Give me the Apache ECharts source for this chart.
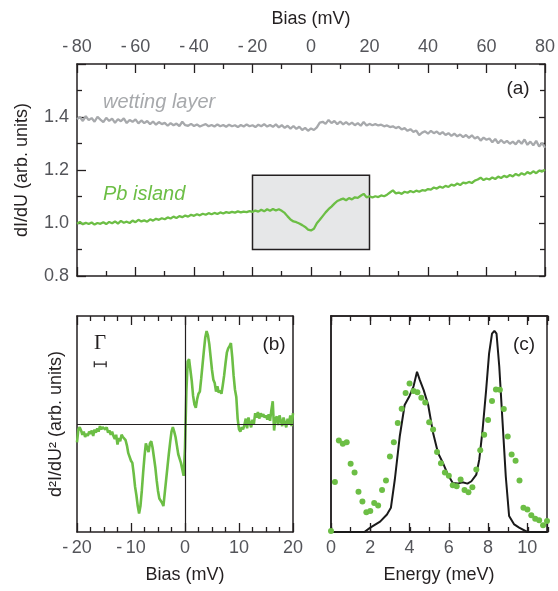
<!DOCTYPE html>
<html>
<head>
<meta charset="utf-8">
<script src="https://cdn.jsdelivr.net/npm/echarts@6/dist/echarts.min.js"></script>
<style>
  html, body { margin: 0; padding: 0; background: #fff; }
  #chart { width: 558px; height: 591px; }
</style>
</head>
<body>
<div id="chart"></div>
<script>
// ---- (a) dI/dU spectra, bias -80 .. 80 mV in 1 mV steps ----
const biasStartA = -80;
const biasStepA = 1;
const wettingLayer = [
  1.392,1.400,1.385,1.403,1.388,1.396,1.382,1.401,1.390,1.381, // -80..-71
  1.397,1.385,1.394,1.378,1.392,1.384,1.395,1.377,1.389,1.382, // -70..-61
  1.391,1.376,1.387,1.377,1.385,1.373,1.383,1.371,1.381,1.373, // -60..-51
  1.378,1.367,1.377,1.369,1.375,1.366,1.382,1.369,1.367,1.374, // -50..-41
  1.366,1.372,1.364,1.369,1.373,1.365,1.370,1.364,1.372,1.365, // -40..-31
  1.370,1.363,1.371,1.365,1.369,1.362,1.370,1.364,1.372,1.365, // -30..-21
  1.369,1.362,1.371,1.365,1.373,1.364,1.370,1.363,1.372,1.361, // -20..-11
  1.369,1.359,1.367,1.356,1.366,1.355,1.363,1.351,1.359,1.348, // -10..-1
  1.357,1.351,1.361,1.379,1.382,1.374,1.389,1.377,1.385,1.373, // 0..9
  1.383,1.372,1.381,1.371,1.379,1.369,1.377,1.367,1.381,1.368, // 10..19
  1.374,1.369,1.373,1.368,1.371,1.365,1.368,1.362,1.365,1.358, // 20..29
  1.363,1.353,1.358,1.348,1.354,1.344,1.349,1.332,1.341,1.346, // 30..39
  1.337,1.348,1.339,1.345,1.335,1.343,1.332,1.339,1.329,1.337, // 40..49
  1.327,1.334,1.324,1.332,1.321,1.331,1.319,1.325,1.311,1.322, // 50..59
  1.314,1.319,1.305,1.317,1.301,1.313,1.302,1.310,1.299,1.307, // 60..69
  1.297,1.311,1.299,1.315,1.295,1.307,1.293,1.310,1.289,1.302, // 70..79
  1.284                                                        // 80
];
const pbIsland = [
  0.997,1.004,0.995,1.001,0.996,1.002,0.994,1.000,0.997,1.003, // -80..-71
  0.996,1.004,0.999,1.006,0.998,1.008,1.001,1.005,1.000,1.009, // -70..-61
  1.003,1.012,1.006,1.010,1.005,1.014,1.009,1.016,1.012,1.018, // -60..-51
  1.014,1.021,1.017,1.024,1.019,1.026,1.022,1.028,1.024,1.031, // -50..-41
  1.027,1.033,1.029,1.035,1.031,1.037,1.033,1.038,1.034,1.040, // -40..-31
  1.036,1.041,1.038,1.042,1.039,1.044,1.040,1.043,1.041,1.045, // -30..-21
  1.042,1.047,1.043,1.050,1.044,1.052,1.046,1.053,1.047,1.052, // -20..-11
  1.046,1.038,1.025,1.013,1.006,1.003,0.998,0.992,0.985,0.975, // -10..-1
  0.972,0.978,0.999,1.012,1.026,1.040,1.052,1.062,1.073,1.083, // 0..9
  1.088,1.092,1.086,1.094,1.089,1.097,1.095,1.103,1.110,1.097, // 10..19
  1.101,1.096,1.101,1.098,1.104,1.101,1.107,1.115,1.123,1.112, // 20..29
  1.115,1.110,1.118,1.114,1.121,1.116,1.122,1.118,1.124,1.122, // 30..39
  1.128,1.126,1.134,1.130,1.137,1.133,1.140,1.136,1.145,1.141, // 40..49
  1.149,1.143,1.152,1.150,1.155,1.151,1.160,1.164,1.171,1.162, // 50..59
  1.168,1.164,1.172,1.166,1.175,1.170,1.178,1.173,1.181,1.176, // 60..69
  1.185,1.179,1.188,1.182,1.192,1.186,1.195,1.188,1.198,1.194, // 70..79
  1.201                                                        // 80
];
// highlighted window around the gap
const boxBias = [-20, 20];
const boxLevel = [0.9, 1.18];

// ---- (b) d2I/dU2, bias -20 .. 20 mV in 0.25 mV steps ----
const biasStartB = -20;
const biasStepB = 0.25;
const secondDerivative = [
  -0.17,-0.05,-0.03,-0.06,-0.10,-0.07,-0.12,-0.09, // -20..-18.25
  -0.11,-0.07,-0.09,-0.06,-0.11,-0.05,-0.08,-0.04, // -18..-16.25
  -0.07,-0.02,-0.05,-0.03,-0.02,-0.05,-0.03,-0.08, // -16..-14.25
  -0.06,-0.10,-0.07,-0.11,-0.14,-0.10,-0.19,-0.13, // -14..-12.25
  -0.16,-0.10,-0.12,-0.11,-0.15,-0.20,-0.27,-0.28, // -12..-10.25
  -0.34,-0.36,-0.46,-0.58,-0.66,-0.76,-0.83,-0.76, // -10..-8.25
  -0.62,-0.45,-0.30,-0.18,-0.19,-0.26,-0.18,-0.16, // -8..-6.25
  -0.22,-0.31,-0.40,-0.52,-0.62,-0.69,-0.70,-0.73, // -6..-4.25
  -0.76,-0.64,-0.52,-0.40,-0.28,-0.17,-0.07,-0.03, // -4..-2.25
  -0.07,-0.12,-0.20,-0.28,-0.32,-0.36,-0.36,-0.48, // -2..-0.25
  -0.22, 0.30, 0.58, 0.60, 0.50, 0.40, 0.26, 0.18, // 0..1.75
   0.15, 0.23, 0.28, 0.30, 0.42, 0.55, 0.68, 0.80, // 2..3.75
   0.86, 0.82, 0.74, 0.62, 0.50, 0.41, 0.38, 0.30, // 4..5.75
   0.35, 0.29, 0.31, 0.28, 0.36, 0.45, 0.56, 0.66, // 6..7.75
   0.70, 0.72, 0.75, 0.62, 0.45, 0.32, 0.25, 0.05, // 8..9.75
  -0.05,-0.07,-0.03,-0.05,-0.01, 0.05,-0.04, 0.06, // 10..11.75
   0.01,-0.03, 0.04, 0.00, 0.10, 0.06, 0.11, 0.05, // 12..13.75
   0.10, 0.07, 0.09, 0.06, 0.08, 0.04, 0.09, 0.03, // 14..15.75
   0.13, 0.21,-0.06, 0.05, 0.07,-0.01, 0.08, 0.03, // 16..17.75
  -0.02, 0.06, 0.01,-0.03, 0.05, 0.00, 0.08,-0.02, // 18..19.75
   0.10                                            // 20
];
// broadening marker: width of the Gamma bar in mV, drawn at this height
const gammaBias = [-16.8, -14.6];
const gammaLevel = 0.554;

// ---- (c) spectral function vs. energy ----
const modelEnergy = [0, 1.7, 2.0, 2.5, 2.85, 3.05, 3.25, 3.5, 3.75, 4.0, 4.2, 4.38, 4.52, 4.72, 4.95,
  5.2, 5.45, 5.7, 5.95, 6.2, 6.45, 6.7, 6.95, 7.15, 7.4, 7.55, 7.72, 7.9, 8.05, 8.2, 8.32, 8.43,
  8.57, 8.74, 8.9, 9.07, 9.33, 9.58, 10.0, 11.0];
const modelValue = [0, 0, 0.02, 0.048, 0.081, 0.112, 0.243, 0.442, 0.588, 0.63, 0.673, 0.742, 0.704, 0.657, 0.588,
  0.458, 0.366, 0.32, 0.266, 0.227, 0.224, 0.23, 0.224, 0.235, 0.266, 0.335, 0.473, 0.657, 0.826, 0.918, 0.931, 0.918,
  0.765, 0.504, 0.258, 0.074, 0.035, 0.02, 0, 0];
const measuredStart = 0;
const measuredStep = 0.2;
const measuredValue = [
  0.005,0.232,0.424,0.409,0.415,0.316,0.275,0.186,0.141,0.092, // 0..1.8
  0.097,0.134,0.123,0.194,0.238,0.350,0.415,0.505,0.571,0.644, // 2..3.8
  0.687,0.653,0.647,0.622,0.599,0.508,0.475,0.370,0.318,0.276, // 4..5.8
  0.260,0.217,0.212,0.243,0.195,0.184,0.207,0.289,0.379,0.450, // 6..7.8
  0.519,0.607,0.660,0.659,0.570,0.442,0.359,0.330,0.238,0.112, // 8..9.8
  0.104,0.077,0.061,0.054,0.031,0.051                          // 10..11
];

// ---- styling ----
const FONT = '"Liberation Sans", Arial, Helvetica, sans-serif';
const INK = '#231f20';
const GREEN = '#6cbe45';
const GREY = '#a7a9ac';

const pairs = (start, step, ys) => ys.map((y, i) => [+(start + i * step).toFixed(4), y]);
const zip = (xs, ys) => xs.map((x, i) => [x, ys[i]]);
const signed = v => (v < 0 ? '-\u2009' + Math.abs(v) : String(v));

// every axis gets its own option objects
const frameLine = () => ({ show: true, onZero: false, lineStyle: { color: INK, width: 1.5 } });
const ticks = len => ({ show: true, inside: true, length: len, lineStyle: { color: INK, width: 1.3 } });
const minor = n => ({ show: true, splitNumber: n, length: 5, lineStyle: { color: INK, width: 1.3 } });
const labels = (margin, fmt) => ({ margin, fontSize: 18, formatter: fmt, showMinLabel: true, showMaxLabel: true });
// mirrored frame sides carry ticks only; their labels are fully transparent
const blankLabels = () => ({ fontSize: 10, color: 'rgba(0,0,0,0)', formatter: () => '' });
const nameStyle = () => ({ fontSize: 18 });

function axis(o) {
  return Object.assign({
    type: 'value', axisLine: frameLine(), axisTick: ticks(9),
    axisLabel: blankLabels(), splitLine: { show: false }
  }, o);
}

const grids = [
  { left: 77, top: 64, width: 471, height: 212 },
  { left: 77, top: 316, width: 216, height: 216 },
  { left: 331, top: 316, width: 217, height: 216 },
  { left: 331, top: 316, width: 217, height: 216 }  // odd-meV tick overlay for (c)
];

const xAxes = [
  axis({ gridIndex: 0, position: 'top', min: -80, max: 80, interval: 20,
    minorTick: minor(2), axisLabel: labels(8, signed),
    name: 'Bias (mV)', nameLocation: 'middle', nameGap: 36, nameTextStyle: nameStyle() }),
  axis({ gridIndex: 0, position: 'bottom', min: -80, max: 80, interval: 20, minorTick: minor(2) }),
  axis({ gridIndex: 1, position: 'bottom', min: -20, max: 20, interval: 10,
    minorTick: minor(4), axisLabel: labels(7, signed),
    name: 'Bias (mV)', nameLocation: 'middle', nameGap: 34, nameTextStyle: nameStyle() }),
  axis({ gridIndex: 1, position: 'top', min: -20, max: 20, interval: 10, minorTick: minor(4) }),
  axis({ gridIndex: 2, position: 'bottom', min: 0, max: 11, interval: 2,
    axisLabel: labels(7, v => (v > 10.5 ? '' : String(v))),
    name: 'Energy (meV)', nameLocation: 'middle', nameGap: 34, nameTextStyle: nameStyle() }),
  axis({ gridIndex: 2, position: 'top', min: 0, max: 11, interval: 2 }),
  axis({ gridIndex: 3, position: 'bottom', min: 0, max: 11, interval: 1, axisTick: ticks(5) }),
  axis({ gridIndex: 3, position: 'top', min: 0, max: 11, interval: 1, axisTick: ticks(5) })
];

const yAxes = [
  axis({ gridIndex: 0, position: 'left', min: 0.8, max: 1.6, interval: 0.2, minorTick: minor(2),
    axisLabel: labels(8, v => (v > 1.55 ? '' : v.toFixed(1))),
    name: 'dI/dU (arb. units)', nameLocation: 'middle', nameGap: 46, nameTextStyle: nameStyle() }),
  axis({ gridIndex: 0, position: 'right', min: 0.8, max: 1.6, interval: 0.2,
    axisTick: ticks(6), minorTick: minor(2) }),
  axis({ gridIndex: 1, position: 'left', min: -1, max: 1, axisTick: { show: false },
    name: 'd\u00b2I/dU\u00b2 (arb. units)', nameLocation: 'middle', nameGap: 10, nameTextStyle: nameStyle() }),
  axis({ gridIndex: 1, position: 'right', min: -1, max: 1, axisTick: { show: false } }),
  axis({ gridIndex: 2, position: 'left', min: 0, max: 1, axisTick: { show: false } }),
  axis({ gridIndex: 2, position: 'right', min: 0, max: 1, axisTick: { show: false } }),
  axis({ gridIndex: 3, position: 'left', min: 0, max: 1, axisTick: { show: false } })
];

const series = [
  {
    name: 'wetting layer', type: 'line', xAxisIndex: 0, yAxisIndex: 0,
    data: pairs(biasStartA, biasStepA, wettingLayer),
    showSymbol: false, lineStyle: { color: GREY, width: 2.3 }, z: 3
  },
  {
    name: 'Pb island', type: 'line', xAxisIndex: 0, yAxisIndex: 0,
    data: pairs(biasStartA, biasStepA, pbIsland),
    showSymbol: false, lineStyle: { color: GREEN, width: 2.3 }, z: 3,
    markArea: {
      silent: true,
      itemStyle: { color: '#e6e7e8', borderColor: INK, borderWidth: 1.5 },
      data: [[{ xAxis: boxBias[0], yAxis: boxLevel[0] }, { xAxis: boxBias[1], yAxis: boxLevel[1] }]]
    }
  },
  {
    name: 'd2I/dU2', type: 'line', xAxisIndex: 2, yAxisIndex: 2,
    data: pairs(biasStartB, biasStepB, secondDerivative),
    showSymbol: false, lineStyle: { color: GREEN, width: 2.6 }, z: 3,
    markLine: {
      silent: true, symbol: 'none', label: { show: false },
      lineStyle: { color: INK, width: 1.2, type: 'solid' },
      data: [{ xAxis: 0 }, { yAxis: 0 }]
    }
  },
  {
    name: 'Gamma', type: 'line', xAxisIndex: 2, yAxisIndex: 2,
    data: gammaBias.map(b => [b, gammaLevel]),
    showSymbol: true, symbol: 'rect', symbolSize: [1.2, 6],
    itemStyle: { color: INK }, lineStyle: { color: INK, width: 1.2 }, z: 4
  },
  {
    name: 'model', type: 'line', xAxisIndex: 4, yAxisIndex: 4,
    data: zip(modelEnergy, modelValue),
    showSymbol: false, lineStyle: { color: '#1a1a1a', width: 2 }, z: 3
  },
  {
    name: 'measured', type: 'scatter', xAxisIndex: 4, yAxisIndex: 4,
    data: pairs(measuredStart, measuredStep, measuredValue),
    symbolSize: 6, itemStyle: { color: GREEN, opacity: 1 }, clip: true, z: 4
  }
];

const text = (t, x, y, opts) => ({
  type: 'text', x, y, z: 10,
  style: Object.assign({ text: t, fill: INK, font: '18px ' + FONT, align: 'center', verticalAlign: 'middle' }, opts || {})
});

const graphic = [
  text('(a)', 518, 89, { font: '19px ' + FONT }),
  text('(b)', 274, 345, { font: '19px ' + FONT }),
  text('(c)', 524, 345, { font: '19px ' + FONT }),
  text('wetting layer', 103, 102, { fill: GREY, font: 'italic 20px ' + FONT, align: 'left' }),
  text('Pb island', 103, 194, { fill: GREEN, font: 'italic 20px ' + FONT, align: 'left' }),
  text('\u0393', 100, 343, { font: '21px "Liberation Serif", "DejaVu Serif", serif' })
];

const chart = echarts.init(document.getElementById('chart'));
chart.setOption({
  animation: false,
  backgroundColor: '#ffffff',
  textStyle: { fontFamily: FONT, color: INK },
  grid: grids,
  xAxis: xAxes,
  yAxis: yAxes,
  series,
  graphic
});
</script>
</body>
</html>
